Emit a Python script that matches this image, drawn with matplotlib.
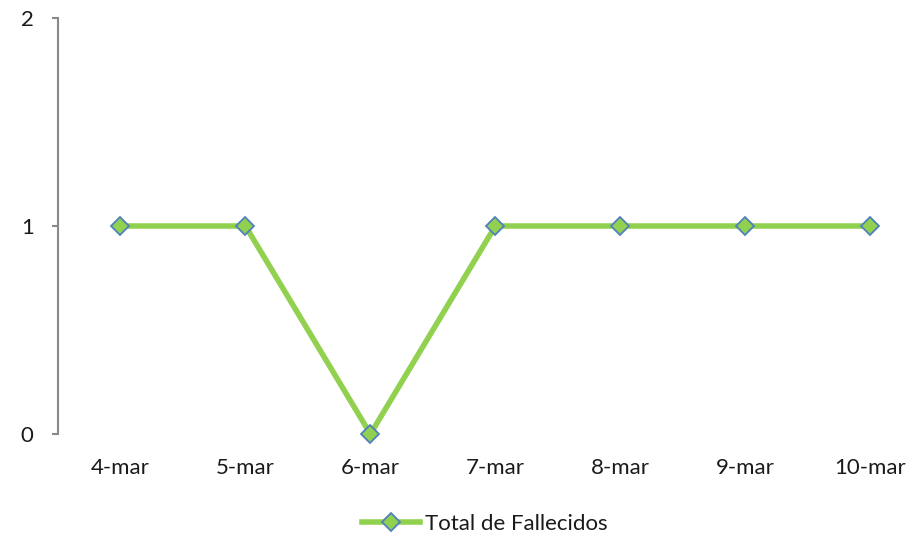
import matplotlib
matplotlib.use("Agg")
import matplotlib.pyplot as plt

categories = ["4-mar", "5-mar", "6-mar", "7-mar", "8-mar", "9-mar", "10-mar"]
fallecidos = [1, 1, 0, 1, 1, 1, 1]
yticks = [0, 1, 2]
series_name = "Total de Fallecidos"

plt.rcParams['font.family'] = ['Lato', 'DejaVu Sans']

fig = plt.figure(figsize=(9.24, 5.38), dpi=100)
ax = fig.add_axes([58/924, 104/538, (924-58)/924, 416/538])

x = list(range(len(categories)))
ax.plot(x, fallecidos, color="#92D050", linewidth=4.0, marker="D", markersize=9,
        markerfacecolor="#92D050", markeredgecolor="#4F81BD", markeredgewidth=1.3,
        label=series_name, zorder=3, clip_on=False)

ax.set_xlim(-0.5, 6.43)
ax.set_ylim(0, 2)
ax.set_xticks(x)
ax.set_xticklabels(categories)
ax.set_yticks(yticks)

for s in ["top", "right", "bottom"]:
    ax.spines[s].set_visible(False)
ax.spines["left"].set_color("#898989")
ax.spines["left"].set_linewidth(1.5)

ax.tick_params(axis="y", length=4.5, width=1.5, color="#898989", pad=13,
               labelsize=16, labelcolor="#1a1a1a")
ax.tick_params(axis="x", length=0, pad=17, labelsize=16, labelcolor="#1a1a1a")

fig.legend(loc="center", bbox_to_anchor=(0.525, 0.026), frameon=False,
           fontsize=16, handlelength=2.6, handletextpad=0.25, labelcolor="#1a1a1a")

fig.savefig("out.png", dpi=100)
